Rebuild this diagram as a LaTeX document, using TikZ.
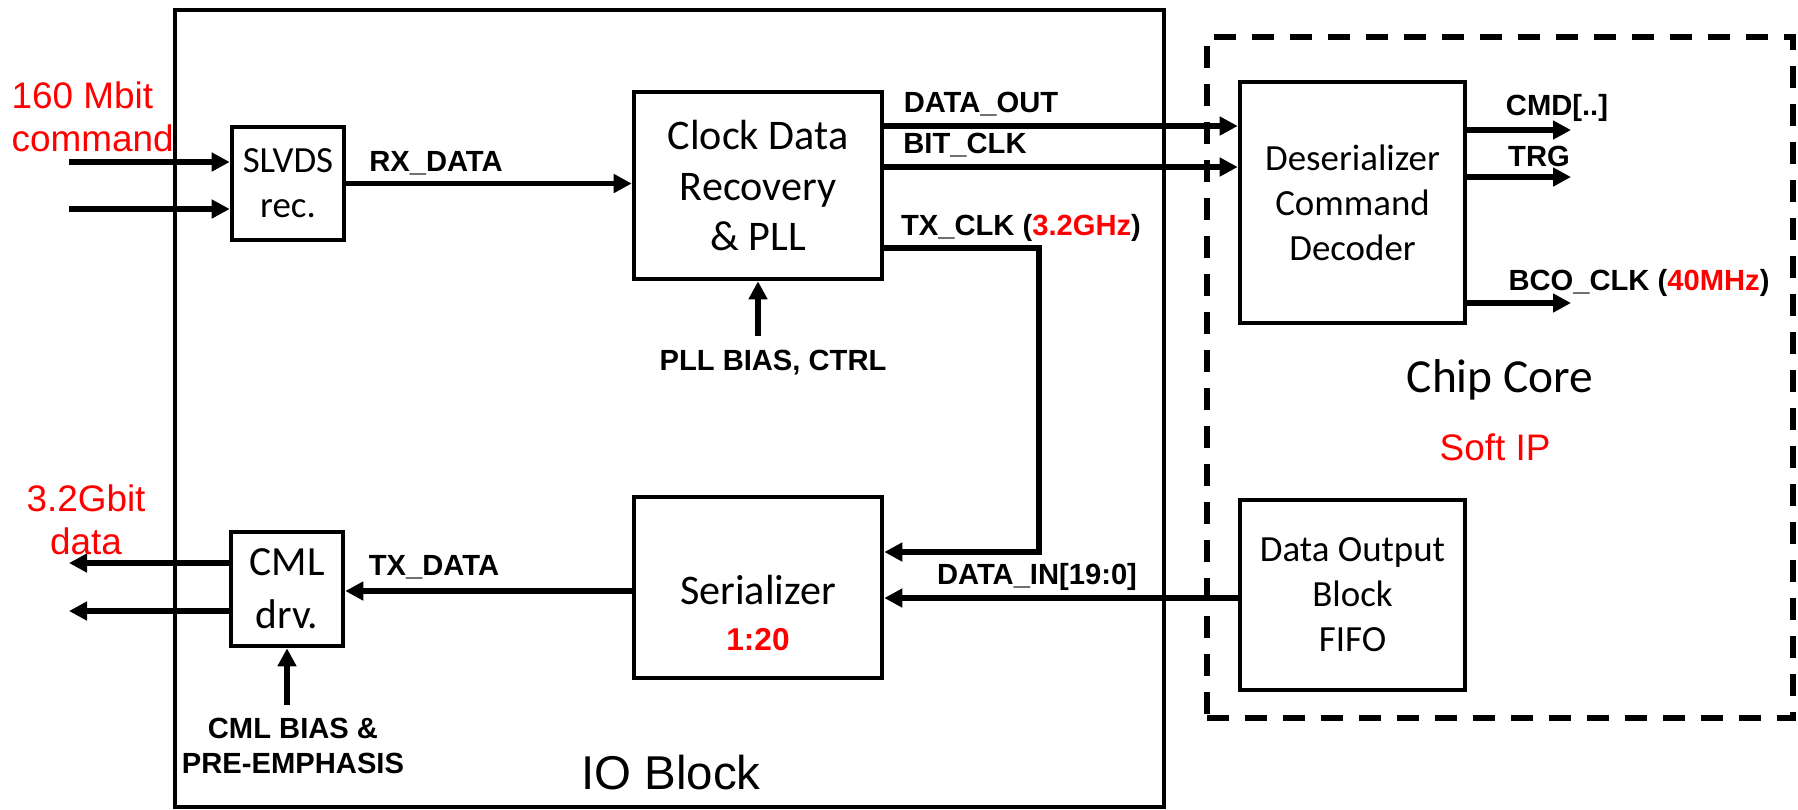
\documentclass[tikz,border=0pt]{standalone}
\usepackage{fontspec}
\setmainfont{Carlito}
\newfontfamily\arialf{Liberation Sans}
\usetikzlibrary{arrows.meta}

\begin{document}
\begin{tikzpicture}[x=0.1mm, y=-0.1mm,
    blk/.style={draw, line width=1.3pt, inner sep=0pt, align=center},
    sig/.style={line width=1.6pt, -{Triangle[length=1.8mm, width=1.8mm]}},
    lbl/.style={font={\arialf\bfseries\fontsize{8.3}{10}\selectfont}, inner sep=0pt, align=center},
    redtxt/.style={font={\arialf\fontsize{10.5}{12.3}\selectfont}, text=red, inner sep=0pt},
    smalltxt/.style={font={\fontsize{10.5}{12.8}\selectfont}}]
    \useasboundingbox (0,0) rectangle (1798,809);

    % 外框
    \node[blk, minimum width=98.9mm, minimum height=79.7mm] (io) at (669.5,408.5) {};
    \node[blk, line width=1.5pt, dash pattern=on 2.2mm off 1.6mm, minimum width=58.6mm, minimum height=68.1mm] (core) at (1500,377.5) {};

    % IO 模块
    \node[blk, smalltxt, minimum width=11.2mm, minimum height=11.3mm] (slvds) at (288,183.5) {SLVDS\\rec.};
    \node[blk, font={\fontsize{12}{14.4}\selectfont}, minimum width=24.8mm, minimum height=18.7mm] (cdr) at (758,185.5) {Clock Data\\Recovery\\\& PLL};
    \node[blk, minimum width=24.8mm, minimum height=18.1mm] (ser) at (758,587.5) {};
    \node[font={\fontsize{12}{14.4}\selectfont}, inner sep=0pt] (sertxt) at (758,590) {Serializer};
    \node[font={\arialf\bfseries\fontsize{9}{11}\selectfont}, text=red, inner sep=0pt] (ratio) at (758,640) {1:20};
    \node[blk, font={\fontsize{11.8}{15.1}\selectfont}, minimum width=11.2mm, minimum height=11.4mm] (cml) at (287,589) {CML\\drv.};

    % 芯片核心
    \node[blk, smalltxt, minimum width=22.5mm, minimum height=24.1mm] (deser) at (1352.5,202.5) {Deserializer\\Command\\Decoder};
    \node[blk, smalltxt, minimum width=22.5mm, minimum height=19mm] (fifo) at (1352.5,595) {Data Output\\Block\\FIFO};

    % 端点
    \coordinate (inA) at (69,162);
    \coordinate (inB) at (69,209);
    \coordinate (outA) at (69,563);
    \coordinate (outB) at (69,611);
    \coordinate (dout) at (1100,126);
    \coordinate (bclk) at (1100,167);
    \coordinate (txclk) at (1039,248);
    \coordinate (txbend) at (1039,552);
    \coordinate (din) at (1100,598);
    \coordinate (txd) at (500,591);
    \coordinate (pllb) at (758,336);
    \coordinate (cmlb) at (287,705);
    \coordinate (cmd) at (1571,130);
    \coordinate (trg) at (1571,177);
    \coordinate (bco) at (1571,303);

    % 信号线
    \draw[sig] (inA) -- (inA -| slvds.west);
    \draw[sig] (inB) -- (inB -| slvds.west);
    \draw[sig] (slvds.east) -- (slvds.east -| cdr.west);
    \draw[sig] (cdr.east |- dout) -- (deser.west |- dout);
    \draw[sig] (cdr.east |- bclk) -- (deser.west |- bclk);
    \draw[sig] (cdr.east |- txclk) -- (txclk) -- (txbend) -- (txbend -| ser.east);
    \draw[sig] (fifo.west |- din) -- (ser.east |- din);
    \draw[sig] (ser.west |- txd) -- (cml.east |- txd);
    \draw[sig] (cml.west |- outA) -- (outA);
    \draw[sig] (cml.west |- outB) -- (outB);
    \draw[sig] (pllb) -- (cdr.south);
    \draw[sig] (cmlb) -- (cml.south);
    \draw[sig] (deser.east |- cmd) -- (cmd);
    \draw[sig] (deser.east |- trg) -- (trg);
    \draw[sig] (deser.east |- bco) -- (bco);

    % 标注
    \node[lbl] (rxlbl) at (436,163) {RX\_DATA};
    \node[lbl] (doutlbl) at (981,104) {DATA\_OUT};
    \node[lbl] (bclklbl) at (965,145) {BIT\_CLK};
    \node[lbl] (txclklbl) at (1021,228) {TX\_CLK (\textcolor{red}{3.2GHz})};
    \node[lbl] (pllblbl) at (773,363) {PLL BIAS, CTRL};
    \node[lbl] (cmdlbl) at (1557,108) {CMD[..]};
    \node[lbl] (trglbl) at (1539,156) {TRG};
    \node[lbl] (bcolbl) at (1639,283) {BCO\_CLK (\textcolor{red}{40MHz})};
    \node[lbl] (dinlbl) at (1037,577) {DATA\_IN[19:0]};
    \node[lbl] (txdlbl) at (434,567) {TX\_DATA};
    \node[lbl] (cmlblbl) at (293,746) {CML BIAS \&\\PRE-EMPHASIS};
    \node[redtxt, align=left, anchor=west] (cmdin) at (11,116.5) {160 Mbit\\command};
    \node[redtxt, align=center] (dataout) at (86,519.5) {3.2Gbit\\data};
    \node[redtxt] (softip) at (1495,447) {Soft IP};
    \node[font={\fontsize{13.5}{16}\selectfont}, inner sep=0pt] (corelbl) at (1500,380) {Chip Core};
    \node[font={\arialf\fontsize{13.5}{16}\selectfont}, inner sep=0pt] (iolbl) at (671,773) {IO Block};
\end{tikzpicture}
\end{document}
